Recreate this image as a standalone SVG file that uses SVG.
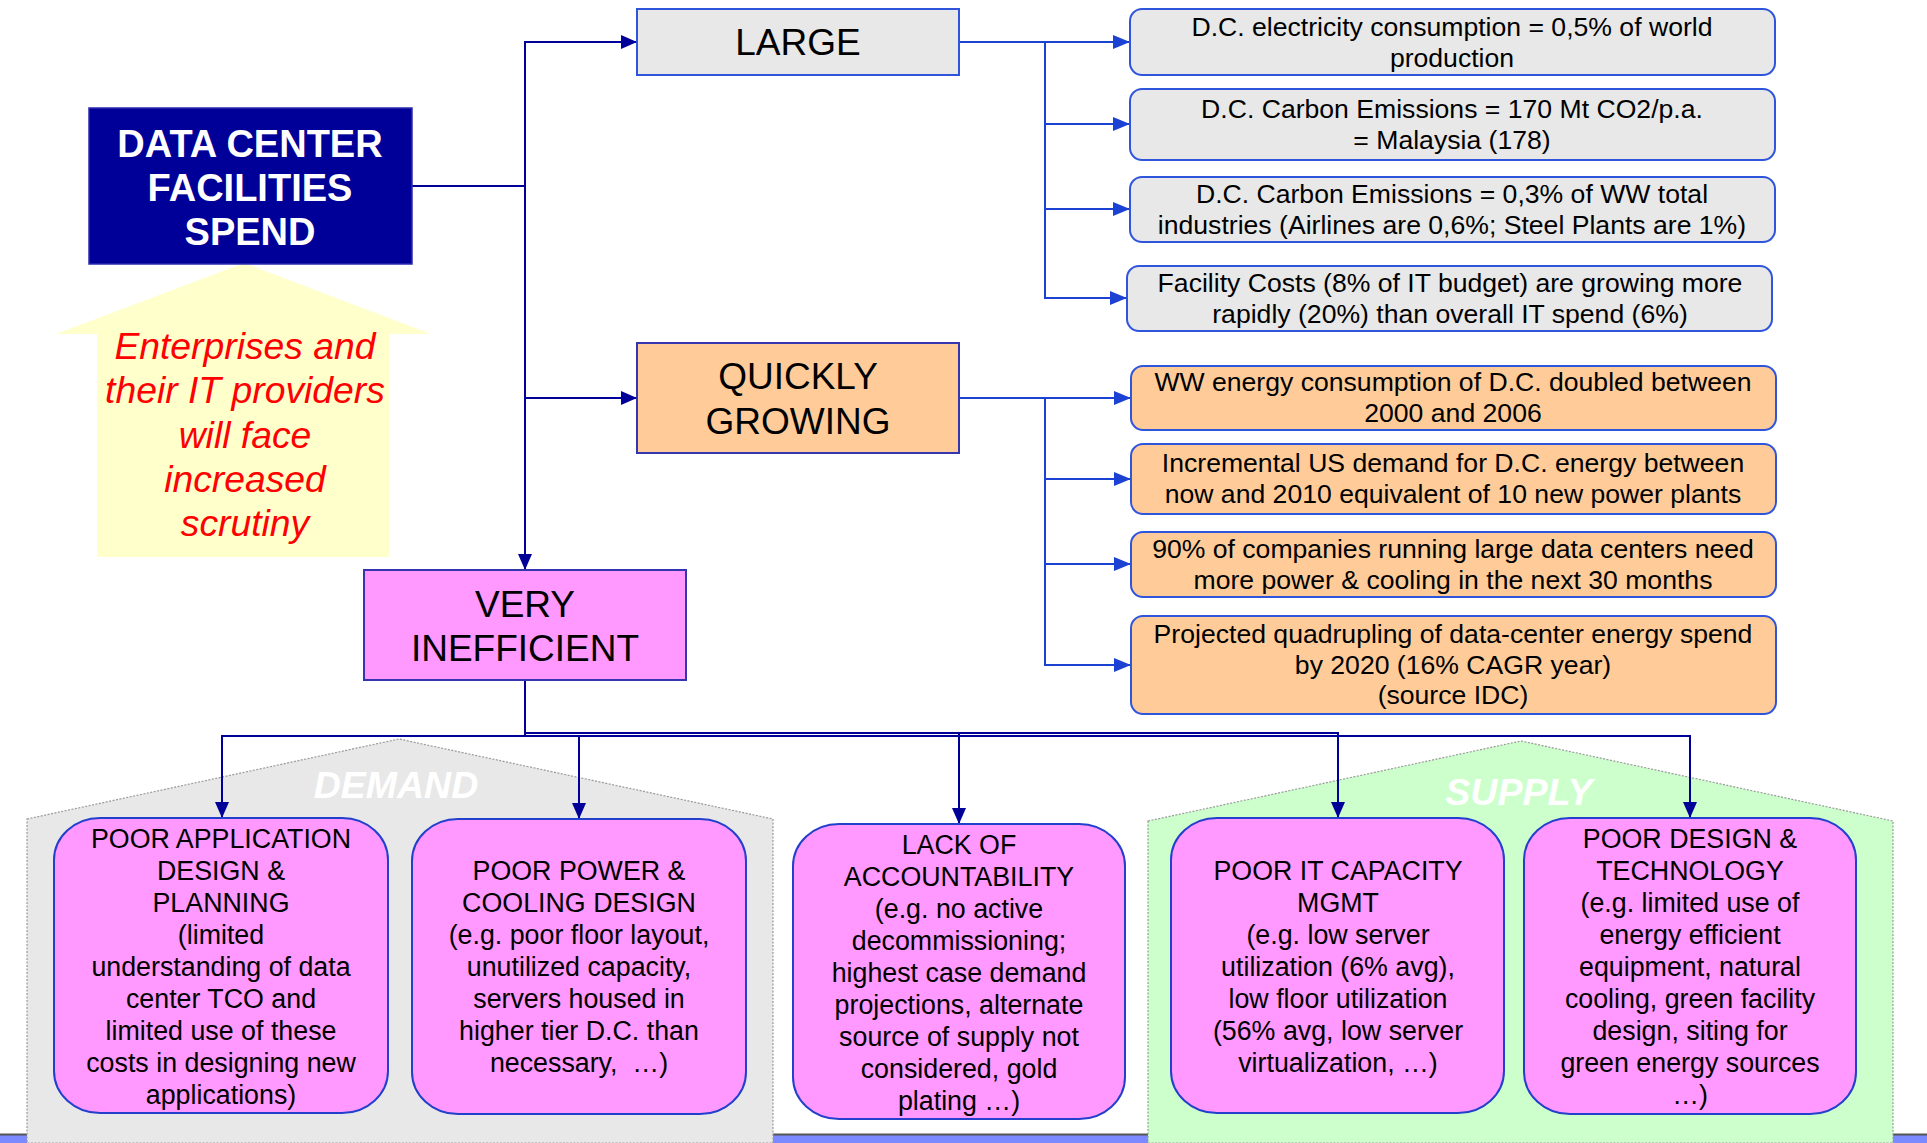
<svg xmlns="http://www.w3.org/2000/svg" width="1927" height="1143" viewBox="0 0 1927 1143">
  <defs>
    <style>
      text { font-family: "Liberation Sans", Arial, Helvetica, sans-serif; text-anchor: middle; }
      .head { font-size: 37px; fill: #000; }
      .fact { font-size: 26.6px; fill: #000; }
      .cause { font-size: 26.8px; fill: #000; }
      .root-txt { font-size: 38px; font-weight: bold; fill: #fff; }
      .callout-txt { font-size: 37.3px; font-style: italic; fill: #ff0000; }
      .zone-txt { font-size: 37.5px; font-weight: bold; font-style: italic; fill: #fff; }
      .box-gray { fill: #e8e8e8; stroke: #2f55dd; stroke-width: 2; }
      .box-orange { fill: #ffcc99; stroke: #2f55dd; stroke-width: 2; }
      .box-pink { fill: #ff99ff; stroke: #2340cc; stroke-width: 2; }
      .zone { stroke: #9a9a9a; stroke-width: 1.2; stroke-dasharray: 2 1.5; }
      .link-navy { fill: none; stroke: #000099; stroke-width: 2; }
      .link-blue { fill: none; stroke: #1c42d4; stroke-width: 2; }
    </style>
    <marker id="ah-navy" viewBox="0 0 16 14" refX="16" refY="7" markerWidth="16" markerHeight="14" markerUnits="userSpaceOnUse" orient="auto">
      <path d="M0,0 L16,7 L0,14 z" fill="#000099"/>
    </marker>
    <marker id="ah-blue" viewBox="0 0 17 14" refX="17" refY="7" markerWidth="17" markerHeight="14" markerUnits="userSpaceOnUse" orient="auto">
      <path d="M0,0 L17,7 L0,14 z" fill="#1c42d4"/>
    </marker>
  </defs>

  <rect width="1927" height="1143" fill="#ffffff"/>

  <!-- footer band -->
  <g id="footer-band">
    <rect x="0" y="1134" width="1927" height="9" fill="#7b8bff"/>
    <line x1="0" y1="1134.5" x2="1927" y2="1134.5" stroke="#555" stroke-width="2"/>
  </g>

  <!-- demand / supply zones -->
  <g id="zone-demand">
    <polygon class="zone" points="27,819 399,739 773,819 773,1143 27,1143" fill="#e8e8e8"/>
    <text class="zone-txt" x="396" y="798">DEMAND</text>
  </g>
  <g id="zone-supply">
    <polygon class="zone" points="1148,821 1521,741 1893,821 1893,1143 1148,1143" fill="#ccffcc"/>
    <text class="zone-txt" x="1519" y="805">SUPPLY</text>
  </g>

  <!-- callout arrow -->
  <g id="callout">
    <polygon points="244,263 431,334 389,334 389,557 97,557 97,334 56,334" fill="#ffffcc"/>
    <text class="callout-txt" x="245" y="359">Enterprises and</text>
    <text class="callout-txt" x="245" y="403">their IT providers</text>
    <text class="callout-txt" x="245" y="448">will face</text>
    <text class="callout-txt" x="245" y="492">increased</text>
    <text class="callout-txt" x="245" y="536">scrutiny</text>
  </g>

  <!-- connectors -->
  <g id="connectors">
    <path class="link-navy" d="M412,186 H525"/>
    <path class="link-navy" d="M525,186 V42 H637" marker-end="url(#ah-navy)"/>
    <path class="link-navy" d="M525,186 V398 H637" marker-end="url(#ah-navy)"/>
    <path class="link-navy" d="M525,398 V570" marker-end="url(#ah-navy)"/>

    <path class="link-blue" d="M959,42 H1045 H1130" marker-end="url(#ah-blue)"/>
    <path class="link-blue" d="M1045,42 V124 H1130" marker-end="url(#ah-blue)"/>
    <path class="link-blue" d="M1045,124 V209 H1130" marker-end="url(#ah-blue)"/>
    <path class="link-blue" d="M1045,209 V298 H1127" marker-end="url(#ah-blue)"/>

    <path class="link-blue" d="M959,398 H1045 H1131" marker-end="url(#ah-blue)"/>
    <path class="link-blue" d="M1045,398 V479 H1131" marker-end="url(#ah-blue)"/>
    <path class="link-blue" d="M1045,479 V564 H1131" marker-end="url(#ah-blue)"/>
    <path class="link-blue" d="M1045,564 V665 H1131" marker-end="url(#ah-blue)"/>

    <path class="link-navy" d="M525,680 V736 H222 V818" marker-end="url(#ah-navy)"/>
    <path class="link-navy" d="M525,736 H579 V819" marker-end="url(#ah-navy)"/>
    <path class="link-navy" d="M525,733 H959 V824" marker-end="url(#ah-navy)"/>
    <path class="link-navy" d="M525,733 H1338 V818" marker-end="url(#ah-navy)"/>
    <path class="link-navy" d="M525,736 H1690 V818" marker-end="url(#ah-navy)"/>
  </g>

  <!-- root -->
  <g id="node-spend">
    <rect x="89" y="108" width="323" height="156" fill="#000099" stroke="#2a2ab0" stroke-width="1.5"/>
    <text class="root-txt" x="250" y="157">DATA CENTER</text>
    <text class="root-txt" x="250" y="201">FACILITIES</text>
    <text class="root-txt" x="250" y="245">SPEND</text>
  </g>

  <!-- level 1 -->
  <g id="node-large">
    <rect x="637" y="9" width="322" height="66" fill="#e8e8e8" stroke="#2f55dd" stroke-width="2"/>
    <text class="head" x="798" y="55">LARGE</text>
  </g>
  <g id="node-growing">
    <rect x="637" y="343" width="322" height="110" fill="#ffcc99" stroke="#3535b0" stroke-width="2"/>
    <text class="head" x="798" y="389">QUICKLY</text>
    <text class="head" x="798" y="434">GROWING</text>
  </g>
  <g id="node-inefficient">
    <rect x="364" y="570" width="322" height="110" fill="#ff99ff" stroke="#3535b0" stroke-width="2"/>
    <text class="head" x="525" y="617">VERY</text>
    <text class="head" x="525" y="661">INEFFICIENT</text>
  </g>

  <!-- facts: large -->
  <g id="fact-electricity">
    <rect class="box-gray" x="1130" y="9" width="645" height="66" rx="12"/>
    <text class="fact" x="1452" y="36">D.C. electricity consumption = 0,5% of world</text>
    <text class="fact" x="1452" y="67">production</text>
  </g>
  <g id="fact-carbon-mt">
    <rect class="box-gray" x="1130" y="89" width="645" height="71" rx="12"/>
    <text class="fact" x="1452" y="118">D.C. Carbon Emissions = 170 Mt CO2/p.a.</text>
    <text class="fact" x="1452" y="149">= Malaysia (178)</text>
  </g>
  <g id="fact-carbon-share">
    <rect class="box-gray" x="1130" y="177" width="645" height="65" rx="12"/>
    <text class="fact" x="1452" y="203">D.C. Carbon Emissions = 0,3% of WW total</text>
    <text class="fact" x="1452" y="234">industries (Airlines are 0,6%; Steel Plants are 1%)</text>
  </g>
  <g id="fact-costs">
    <rect class="box-gray" x="1127" y="266" width="645" height="65" rx="12"/>
    <text class="fact" x="1450" y="292">Facility Costs (8% of IT budget) are growing more</text>
    <text class="fact" x="1450" y="323">rapidly (20%) than overall IT spend (6%)</text>
  </g>

  <!-- facts: growing -->
  <g id="fact-doubled">
    <rect class="box-orange" x="1131" y="366" width="645" height="64" rx="12"/>
    <text class="fact" x="1453" y="391">WW energy consumption of D.C. doubled between</text>
    <text class="fact" x="1453" y="422">2000 and 2006</text>
  </g>
  <g id="fact-us-demand">
    <rect class="box-orange" x="1131" y="444" width="645" height="70" rx="12"/>
    <text class="fact" x="1453" y="472">Incremental US demand for D.C. energy between</text>
    <text class="fact" x="1453" y="503">now and 2010 equivalent of 10 new power plants</text>
  </g>
  <g id="fact-companies">
    <rect class="box-orange" x="1131" y="532" width="645" height="65" rx="12"/>
    <text class="fact" x="1453" y="558">90% of companies running large data centers need</text>
    <text class="fact" x="1453" y="589">more power &amp; cooling in the next 30 months</text>
  </g>
  <g id="fact-quadrupling">
    <rect class="box-orange" x="1131" y="616" width="645" height="98" rx="12"/>
    <text class="fact" x="1453" y="643">Projected quadrupling of data-center energy spend</text>
    <text class="fact" x="1453" y="674">by 2020 (16% CAGR year)</text>
    <text class="fact" x="1453" y="704">(source IDC)</text>
  </g>

  <!-- causes -->
  <g id="cause-application">
    <rect class="box-pink" x="54" y="818" width="334" height="295" rx="46" ry="42"/>
    <text class="cause" x="221" y="848">POOR APPLICATION</text>
    <text class="cause" x="221" y="880">DESIGN &amp;</text>
    <text class="cause" x="221" y="912">PLANNING</text>
    <text class="cause" x="221" y="944">(limited</text>
    <text class="cause" x="221" y="976">understanding of data</text>
    <text class="cause" x="221" y="1008">center TCO and</text>
    <text class="cause" x="221" y="1040">limited use of these</text>
    <text class="cause" x="221" y="1072">costs in designing new</text>
    <text class="cause" x="221" y="1104">applications)</text>
  </g>
  <g id="cause-power-cooling">
    <rect class="box-pink" x="412" y="819" width="334" height="295" rx="46" ry="42"/>
    <text class="cause" x="579" y="880">POOR POWER &amp;</text>
    <text class="cause" x="579" y="912">COOLING DESIGN</text>
    <text class="cause" x="579" y="944">(e.g. poor floor layout,</text>
    <text class="cause" x="579" y="976">unutilized capacity,</text>
    <text class="cause" x="579" y="1008">servers housed in</text>
    <text class="cause" x="579" y="1040">higher tier D.C. than</text>
    <text class="cause" x="579" y="1072">necessary,&#160; …)</text>
  </g>
  <g id="cause-accountability">
    <rect class="box-pink" x="793" y="824" width="332" height="295" rx="46" ry="42"/>
    <text class="cause" x="959" y="854">LACK OF</text>
    <text class="cause" x="959" y="886">ACCOUNTABILITY</text>
    <text class="cause" x="959" y="918">(e.g. no active</text>
    <text class="cause" x="959" y="950">decommissioning;</text>
    <text class="cause" x="959" y="982">highest case demand</text>
    <text class="cause" x="959" y="1014">projections, alternate</text>
    <text class="cause" x="959" y="1046">source of supply not</text>
    <text class="cause" x="959" y="1078">considered, gold</text>
    <text class="cause" x="959" y="1110">plating …)</text>
  </g>
  <g id="cause-capacity">
    <rect class="box-pink" x="1171" y="818" width="333" height="295" rx="46" ry="42"/>
    <text class="cause" x="1338" y="880">POOR IT CAPACITY</text>
    <text class="cause" x="1338" y="912">MGMT</text>
    <text class="cause" x="1338" y="944">(e.g. low server</text>
    <text class="cause" x="1338" y="976">utilization (6% avg),</text>
    <text class="cause" x="1338" y="1008">low floor utilization</text>
    <text class="cause" x="1338" y="1040">(56% avg, low server</text>
    <text class="cause" x="1338" y="1072">virtualization, …)</text>
  </g>
  <g id="cause-technology">
    <rect class="box-pink" x="1524" y="818" width="332" height="296" rx="46" ry="42"/>
    <text class="cause" x="1690" y="848">POOR DESIGN &amp;</text>
    <text class="cause" x="1690" y="880">TECHNOLOGY</text>
    <text class="cause" x="1690" y="912">(e.g. limited use of</text>
    <text class="cause" x="1690" y="944">energy efficient</text>
    <text class="cause" x="1690" y="976">equipment, natural</text>
    <text class="cause" x="1690" y="1008">cooling, green facility</text>
    <text class="cause" x="1690" y="1040">design, siting for</text>
    <text class="cause" x="1690" y="1072">green energy sources</text>
    <text class="cause" x="1690" y="1104">…)</text>
  </g>
</svg>
